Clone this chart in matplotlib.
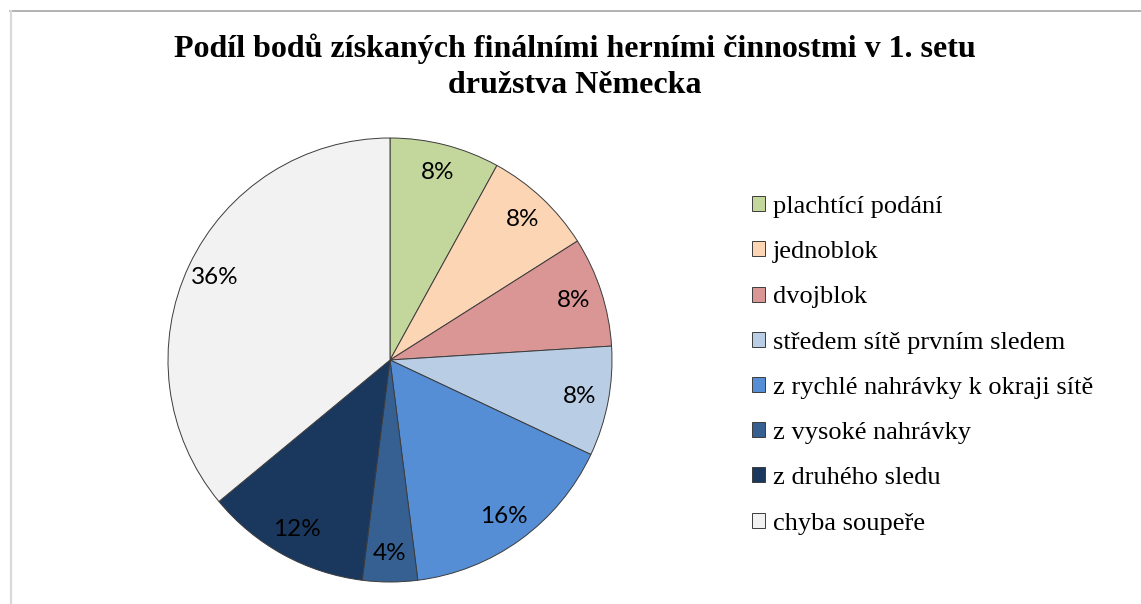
import matplotlib.pyplot as plt
from matplotlib.lines import Line2D

# data
kategorie = ['plachtící podání', 'jednoblok', 'dvojblok', 'středem sítě prvním sledem',
             'z rychlé nahrávky k okraji sítě', 'z vysoké nahrávky', 'z druhého sledu',
             'chyba soupeře']
body = [2, 2, 2, 2, 4, 1, 3, 9]
barvy = ['#C3D69B', '#FCD5B5', '#D99694', '#B9CDE5', '#558ED5', '#376092', '#1A375E', '#F2F2F2']

fig = plt.figure(figsize=(11.41, 6.04), dpi=100)
fig.patch.set_facecolor('white')

# ramecek grafu
fig.add_artist(Line2D([10 / 1141, 1], [1 - 11 / 604, 1 - 11 / 604], color='#A6A6A6', lw=1.2))
fig.add_artist(Line2D([10.5 / 1141, 10.5 / 1141], [0, 1 - 11 / 604], color='#D9D9D9', lw=1.6))

ax = fig.add_axes([(390 - 222) / 1141, (604 - 582) / 604, 444 / 1141, 444 / 604])
wedges, texts, pcts = ax.pie(body, colors=barvy, startangle=90, counterclock=False,
                             autopct='%1.0f%%', pctdistance=0.87, radius=1,
                             wedgeprops=dict(edgecolor='#3C3C3C', linewidth=0.7),
                             textprops=dict(fontsize=17.5, family='Lato', color='black'))
ax.set_xlim(-1.0, 1.0)
ax.set_ylim(-1.0, 1.0)
ax.set_aspect('equal')
ax.axis('off')

fig.text(575 / 1141, 1 - 67 / 604, 'Podíl bodů získaných finálními herními činnostmi v 1. setu\ndružstva Německa',
         ha='center', va='center', fontsize=23, fontweight='bold', family='Liberation Serif',
         linespacing=1.33)

leg = fig.legend(wedges, kategorie, loc='upper left', bbox_to_anchor=(752 / 1141, 1 - 196 / 604),
                 frameon=False, prop=dict(family='Liberation Serif', size=19),
                 handlelength=0.5, handleheight=0.5, handletextpad=0.3, labelspacing=0.88,
                 borderpad=0, borderaxespad=0)

fig.savefig('out.png', dpi=100)
